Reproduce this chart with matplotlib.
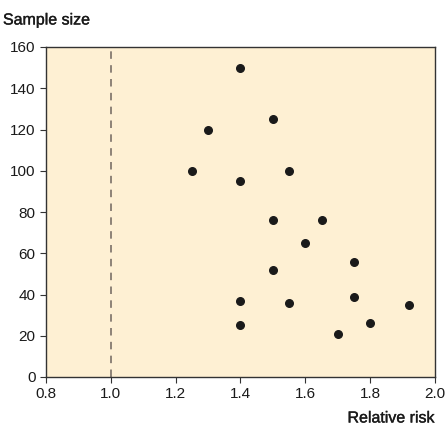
import numpy as np
import matplotlib
matplotlib.use('Agg')
import matplotlib.pyplot as plt
import matplotlib.patheffects as pe

plt.rcParams['font.family'] = ['Liberation Sans', 'DejaVu Sans']

# data
relative_risk = [1.40, 1.30, 1.50, 1.25, 1.55, 1.40, 1.50, 1.65, 1.60,
                 1.75, 1.50, 1.40, 1.55, 1.75, 1.92, 1.40, 1.70, 1.80]
sample_size = [150, 120, 125, 100, 100, 95, 76, 76, 65,
               56, 52, 37, 36, 39, 35, 25, 21, 26]
x_ticks = [0.8, 1.0, 1.2, 1.4, 1.6, 1.8, 2.0]
y_ticks = [0, 20, 40, 60, 80, 100, 120, 140, 160]

fig = plt.figure(figsize=(4.45, 4.25), dpi=100)
ax = fig.add_axes([46/445, 1-377/425, 389/445, 330/425])
ax.set_facecolor('#fef0d3')

ax.axvline(1.0, color='#7a7068', linestyle=(0, (4.5, 3.8)), linewidth=1.2)
ax.scatter(relative_risk, sample_size, s=30, color='#1a1a1a', zorder=3)

ax.set_xlim(0.8, 2.0)
ax.set_ylim(0, 160)
ax.set_xticks(x_ticks)
ax.set_xticklabels([f'{t:.1f}' for t in x_ticks])
ax.set_yticks(y_ticks)
ax.tick_params(direction='out', length=4, labelsize=11, color='#333333', labelcolor='#1a1a1a')
for s in ax.spines.values():
    s.set_color('#333333')
    s.set_linewidth(1)

bold = [pe.withStroke(linewidth=0.25, foreground='#1a1a1a')]
fig.text(3/445, 1-20/425, 'Sample size', ha='left', va='center', fontsize=11.5,
         color='#1a1a1a', path_effects=bold)
fig.text(435/445, 1-418/425, 'Relative risk', ha='right', va='center', fontsize=11.5,
         color='#1a1a1a', path_effects=bold)

fig.savefig('out.png', dpi=100)
